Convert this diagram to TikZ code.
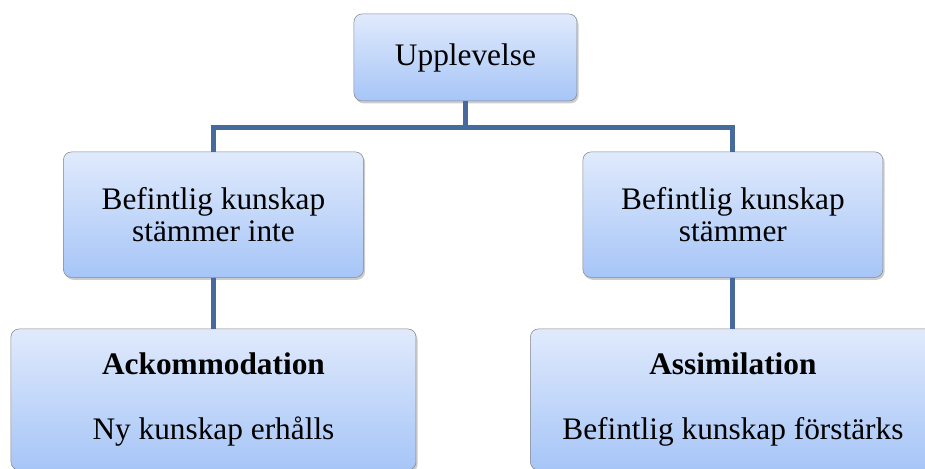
\documentclass[tikz,border=0pt]{standalone}
\usepackage{fontspec}
\setmainfont{Liberation Serif}
\usepackage{tikz}
\usetikzlibrary{shadows}

\definecolor{linkblue}{RGB}{70,106,158}
\definecolor{boxtop}{RGB}{224,234,252}
\definecolor{boxbottom}{RGB}{166,197,247}

\tikzset{
  box/.style={rectangle, rounded corners=6pt, draw=gray!95, thin,
    top color=boxtop, bottom color=boxbottom, align=center,
    font=\fontsize{23.5}{24.4}\selectfont,
    drop shadow={shadow xshift=1.2pt, shadow yshift=-1.8pt, opacity=0.4, fill=gray}},
  topbox/.style={box, minimum width=167.25pt, minimum height=65.25pt},
  midbox/.style={box, minimum width=225pt, minimum height=94.1pt},
  lowbox/.style={box, minimum width=303.75pt, minimum height=105.75pt}
}

\begin{document}
\begin{tikzpicture}[
  level 1/.style={sibling distance=389.6pt, level distance=117.9pt},
  level 2/.style={level distance=138.6pt},
  edge from parent/.style={draw=linkblue, line width=3.75pt},
  edge from parent path={(\tikzparentnode.south) -- ++(0,-19.9pt) -| (\tikzchildnode.north)}]
\useasboundingbox (0,0) rectangle (693.75pt,-351pt);
\node [topbox] (upplevelse) at (349.1pt,-43.1pt) {Upplevelse}
  child[xshift=5.8pt] {node[midbox] (inte) {Befintlig kunskap\\stämmer inte}
    child {node[lowbox] (ackommodation) {\textbf{Ackommodation}\\[24.4pt]Ny kunskap erhålls}}
  }
  child[xshift=5.8pt] {node[midbox] (stammer) {Befintlig kunskap\\stämmer}
    child {node[lowbox] (assimilation) {\textbf{Assimilation}\\[24.4pt]Befintlig kunskap förstärks}}
  }
;
\end{tikzpicture}
\end{document}
